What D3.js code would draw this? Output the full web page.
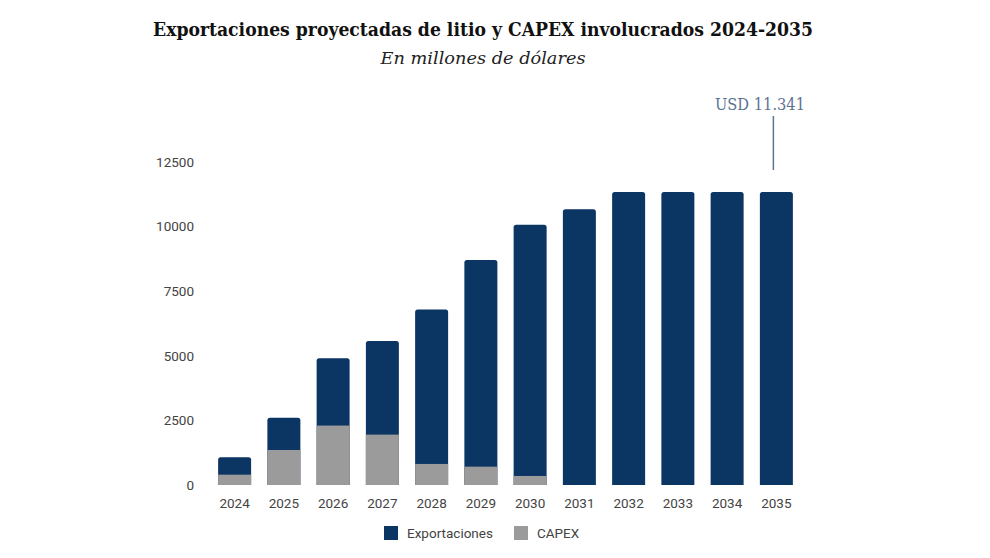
<!DOCTYPE html>
<html>
<head>
<meta charset="utf-8">
<script src="https://cdn.jsdelivr.net/npm/d3@7"></script>
<style>
  body { margin: 0; background: #fff; }
  svg { display: block; }
</style>
</head>
<body>
<div id="chart"></div>
<script>
// data (millones de dólares)
const years = ['2024', '2025', '2026', '2027', '2028', '2029', '2030', '2031', '2032', '2033', '2034', '2035']
const exportaciones = [1075, 2605, 4910, 5575, 6790, 8705, 10075, 10670, 11341, 11341, 11341, 11341]
const capex = [400, 1355, 2300, 1950, 815, 710, 350, 0, 0, 0, 0, 0]
const yTicks = [0, 2500, 5000, 7500, 10000, 12500]

const W = 990, H = 558
const svg = d3.select('#chart').append('svg').attr('width', W).attr('height', H)

const x = d3.scaleBand().domain(years).range([210, 801]).paddingInner(0.33).paddingOuter(0.165)
const y = d3.scaleLinear().domain([0, 12500]).range([485, 162])

const navy = '#0b3563', grey = '#9b9b9b'

// title
svg.append('text')
  .attr('x', 483).attr('y', 36)
  .attr('text-anchor', 'middle')
  .style('font-family', 'DejaVu Serif').style('font-weight', 'bold').style('font-size', '18px')
  .attr('textLength', 660).attr('lengthAdjust', 'spacingAndGlyphs')
  .style('fill', '#111')
  .text('Exportaciones proyectadas de litio y CAPEX involucrados 2024-2035')

svg.append('text')
  .attr('x', 483).attr('y', 64)
  .attr('text-anchor', 'middle')
  .style('font-family', 'DejaVu Serif').style('font-style', 'italic').style('font-size', '17.5px')
  .attr('textLength', 205).attr('lengthAdjust', 'spacingAndGlyphs')
  .style('fill', '#222')
  .text('En millones de dólares')

// y axis labels (no line)
svg.append('g')
  .selectAll('text')
  .data(yTicks)
  .join('text')
  .attr('x', 194)
  .attr('y', d => y(d))
  .attr('dy', '0.35em')
  .attr('text-anchor', 'end')
  .style('font-family', 'Roboto').style('font-size', '13.5px').style('fill', '#444')
  .text(d => d)

// x axis labels
svg.append('g')
  .selectAll('text')
  .data(years)
  .join('text')
  .attr('x', d => x(d) + x.bandwidth() / 2)
  .attr('y', 503)
  .attr('dy', '0.35em')
  .attr('text-anchor', 'middle')
  .style('font-family', 'Roboto').style('font-size', '13.5px').style('fill', '#444')
  .text(d => d)

// bars: exports behind, capex overlaid from the baseline
function topRounded(x0, y0, w, h, r) {
  r = Math.min(r, h, w / 2)
  return `M${x0},${y0 + h}V${y0 + r}Q${x0},${y0} ${x0 + r},${y0}H${x0 + w - r}Q${x0 + w},${y0} ${x0 + w},${y0 + r}V${y0 + h}Z`
}

svg.append('g')
  .selectAll('path')
  .data(years.map((d, i) => ({ year: d, v: exportaciones[i] })))
  .join('path')
  .attr('d', d => topRounded(x(d.year), y(d.v), x.bandwidth(), y(0) - y(d.v), 2.5))
  .style('fill', navy)

svg.append('g')
  .selectAll('rect')
  .data(years.map((d, i) => ({ year: d, v: capex[i] })).filter(d => d.v > 0))
  .join('rect')
  .attr('x', d => x(d.year))
  .attr('y', d => y(d.v))
  .attr('width', x.bandwidth())
  .attr('height', d => y(0) - y(d.v))
  .style('fill', grey)

// annotation on the last bar
const last = years[years.length - 1]
const lx = x(last) + x.bandwidth() / 2 - 3
svg.append('line')
  .attr('x1', lx).attr('x2', lx)
  .attr('y1', 116).attr('y2', 170)
  .style('stroke', '#5d7393').style('stroke-width', 1.5)
svg.append('text')
  .attr('x', 760).attr('y', 110)
  .attr('text-anchor', 'middle')
  .style('font-family', 'DejaVu Serif').style('font-size', '17px')
  .attr('textLength', 90).attr('lengthAdjust', 'spacingAndGlyphs')
  .style('fill', '#5d7393')
  .text('USD 11.341')

// legend
const legend = [{ name: 'Exportaciones', color: navy, x: 384 }, { name: 'CAPEX', color: grey, x: 514 }]
const lg = svg.append('g').selectAll('g').data(legend).join('g')
  .attr('transform', d => `translate(${d.x},526)`)
lg.append('rect').attr('width', 14).attr('height', 14).style('fill', d => d.color)
lg.append('text')
  .attr('x', 23).attr('y', 7).attr('dy', '0.35em')
  .style('font-family', 'Roboto').style('font-size', '13.5px').style('fill', '#444')
  .text(d => d.name)
</script>
</body>
</html>
